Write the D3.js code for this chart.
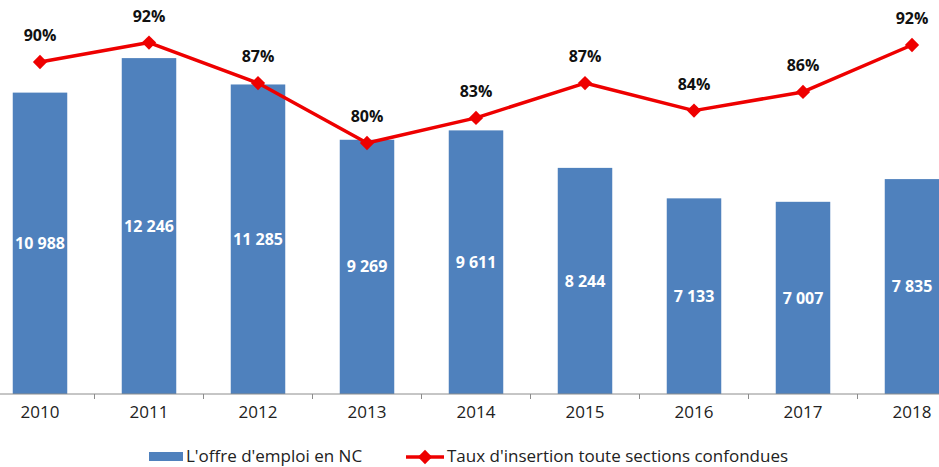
<!DOCTYPE html>
<html>
<head>
<meta charset="utf-8">
<script src="https://cdn.jsdelivr.net/npm/d3@7"></script>
<style>
  body { margin: 0; background: #fff; }
  svg { display: block; font-family: "Open Sans", sans-serif; }
</style>
</head>
<body>
<svg id="container"></svg>
<script>
// data
const years = ["2010", "2011", "2012", "2013", "2014", "2015", "2016", "2017", "2018"];
const offres = [10988, 12246, 11285, 9269, 9611, 8244, 7133, 7007, 7835];
const taux = [90.0, 92.4, 87.4, 80.0, 83.1, 87.4, 84.0, 86.3, 92.1];
const seriesNames = ["L'offre d'emploi en NC", "Taux d'insertion toute sections confondues"];

const width = 939;
const height = 467;
const baseY = 394;

const svg = d3.select("#container")
    .attr("width", width)
    .attr("height", height);

const x = d3.scaleBand()
    .domain(years)
    .range([-14.5, 966.5])
    .paddingInner(0.5)
    .paddingOuter(0.25);

const y = d3.scaleLinear()
    .domain([0, 14000])
    .range([baseY, 10]);

// secondary axis for the rate (hidden)
const y2 = d3.scaleLinear()
    .domain([50, 100])
    .range([386, -19]);

const cx = d => x(d) + x.bandwidth() / 2;

// bars
svg.append("g")
    .selectAll("rect")
    .data(years)
    .join("rect")
    .attr("x", d => x(d))
    .attr("width", x.bandwidth())
    .attr("y", (d, i) => y(offres[i]))
    .attr("height", (d, i) => baseY - y(offres[i]))
    .attr("fill", "#4F81BD");

// bar labels
const fmt = v => d3.format(",")(v).replace(",", " ");
svg.append("g")
    .selectAll("text")
    .data(years)
    .join("text")
    .attr("x", d => cx(d))
    .attr("y", (d, i) => (y(offres[i]) + baseY) / 2)
    .attr("dy", "0.35em")
    .attr("text-anchor", "middle")
    .attr("fill", "#fff")
    .attr("font-weight", "bold")
    .attr("font-size", 16)
    .text((d, i) => fmt(offres[i]));

// x axis
const xAxis = d3.axisBottom(x).tickSize(0).tickPadding(12);
const gx = svg.append("g")
    .attr("transform", `translate(0,${baseY})`)
    .call(xAxis);
gx.select(".domain").remove();
gx.selectAll("text")
    .attr("font-size", 17)
    .attr("fill", "#222")
    .style("font-family", "'Open Sans', sans-serif");

svg.append("line")
    .attr("x1", 0).attr("x2", width)
    .attr("y1", baseY).attr("y2", baseY)
    .attr("stroke", "#8c8c8c");

// ticks between categories
const step = x.step();
svg.append("g")
    .selectAll("line")
    .data(years.slice(1))
    .join("line")
    .attr("x1", d => cx(d) - step / 2)
    .attr("x2", d => cx(d) - step / 2)
    .attr("y1", baseY)
    .attr("y2", baseY + 5)
    .attr("stroke", "#8c8c8c");

// rate line
const line = d3.line()
    .x((d, i) => cx(years[i]))
    .y(d => y2(d));

svg.append("path")
    .datum(taux)
    .attr("d", line)
    .attr("fill", "none")
    .attr("stroke", "#EE0000")
    .attr("stroke-width", 3.5)
    .attr("stroke-linejoin", "round");

const diamond = d3.symbol().type(d3.symbolDiamond2).size(130);

svg.append("g")
    .selectAll("path")
    .data(taux)
    .join("path")
    .attr("d", diamond)
    .attr("transform", (d, i) => `translate(${cx(years[i])},${y2(d)})`)
    .attr("fill", "#EE0000");

svg.append("g")
    .selectAll("text")
    .data(taux)
    .join("text")
    .attr("x", (d, i) => cx(years[i]))
    .attr("y", d => y2(d) - 21)
    .attr("text-anchor", "middle")
    .attr("font-weight", "bold")
    .attr("font-size", 16)
    .attr("fill", "#111")
    .text(d => Math.round(d) + "%");

// legend
const leg = svg.append("g").attr("transform", "translate(0,456)");
leg.append("rect")
    .attr("x", 149).attr("y", -4)
    .attr("width", 34).attr("height", 9)
    .attr("fill", "#4F81BD");
leg.append("text")
    .attr("x", 186).attr("y", 0)
    .attr("dy", "0.35em")
    .attr("font-size", 17)
    .attr("fill", "#222")
    .text(seriesNames[0]);

leg.append("line")
    .attr("x1", 406).attr("x2", 444)
    .attr("y1", 1).attr("y2", 1)
    .attr("stroke", "#EE0000")
    .attr("stroke-width", 3.5);
leg.append("path")
    .attr("d", diamond)
    .attr("transform", "translate(425,1)")
    .attr("fill", "#EE0000");
leg.append("text")
    .attr("x", 447).attr("y", 0)
    .attr("dy", "0.35em")
    .attr("font-size", 17)
    .attr("fill", "#222")
    .text(seriesNames[1]);
</script>
</body>
</html>
